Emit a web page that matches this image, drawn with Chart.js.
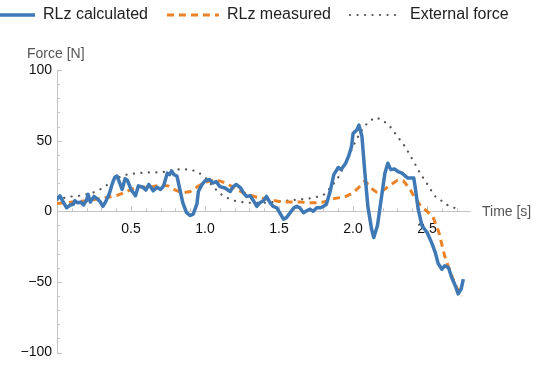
<!DOCTYPE html>
<html>
<head>
<meta charset="utf-8">
<script src="https://cdn.jsdelivr.net/npm/chart.js@4/dist/chart.umd.min.js"></script>
<style>
  html, body { margin: 0; padding: 0; background: #fff; }
  #wrap { width: 550px; height: 366px; }
</style>
</head>
<body>
<div id="wrap"><canvas id="chart" width="550" height="366"></canvas></div>
<script>
/* RLz force vs time */

// RLz calculated (blue, noisy)
const calcTime = [0, 0.02, 0.04, 0.065, 0.09, 0.11, 0.12, 0.14, 0.16, 0.18, 0.2, 0.21, 0.225, 0.25, 0.27, 0.29, 0.31, 0.33,
  0.355, 0.375, 0.39, 0.405, 0.42, 0.44, 0.46, 0.475, 0.5, 0.53, 0.55, 0.58, 0.6, 0.62, 0.65, 0.675, 0.7, 0.72, 0.745,
  0.76, 0.775, 0.79, 0.81, 0.83, 0.85, 0.875, 0.9, 0.92, 0.945, 0.955, 0.98, 1.0, 1.03, 1.055, 1.075, 1.1, 1.135, 1.17,
  1.19, 1.21, 1.24, 1.26, 1.28, 1.305, 1.33, 1.35, 1.37, 1.395, 1.415, 1.44, 1.46, 1.485, 1.51, 1.53, 1.55, 1.575, 1.6,
  1.62, 1.64, 1.665, 1.69, 1.71, 1.73, 1.755, 1.78, 1.8, 1.82, 1.845, 1.87, 1.9, 1.92, 1.95, 1.97, 1.99, 2.0, 2.025,
  2.04, 2.06, 2.08, 2.1, 2.125, 2.14, 2.165, 2.19, 2.215, 2.235, 2.255, 2.28, 2.305, 2.33, 2.37, 2.41, 2.42, 2.44,
  2.465, 2.5, 2.53, 2.555, 2.575, 2.6, 2.62, 2.645, 2.665, 2.69, 2.71, 2.73, 2.745];
const calcForce = [8.5, 11, 7, 2.5, 4.5, 5, 7.5, 6, 6.5, 4.5, 8, 12, 6.5, 10.5, 9, 7, 3.5, 7,
  13, 20, 24, 25, 21, 15.5, 23, 22, 15.5, 11, 18, 17, 15, 19, 14.5, 17, 15.5, 18, 27,
  26, 28.5, 26, 25, 15.5, 6, -1, -3, -2, 5, 14, 19, 21.5, 22.5, 20, 21, 17.5, 16.5, 14,
  17.5, 19, 16.5, 13, 10.5, 11, 7, 3.5, 6, 7.5, 10.5, 6, 3.5, 2.5, -2, -5.5, -4.5, -1, 2.5,
  3.5, 2.5, -1, 0.5, 1.5, 0, 2.5, 2.5, 3.5, 5, 14, 26, 31, 29.5, 34, 39, 46, 55, 57.5,
  61, 53, 27, 3.5, -12.5, -18.5, -10, 8.5, 27, 34, 29.5, 30, 28, 27, 23.5, 23.5, 17, 1.5,
  -10, -15, -22, -29, -37, -41, -38.5, -40, -46.5, -52.5, -58.5, -55, -48];

// RLz measured (orange, dashed)
const measTime = [0, 0.1, 0.2, 0.3, 0.4, 0.45, 0.5, 0.55, 0.6, 0.65, 0.7, 0.75, 0.8, 0.85, 0.9, 0.95, 1.0, 1.05,
  1.1, 1.15, 1.2, 1.25, 1.3, 1.35, 1.4, 1.45, 1.5, 1.55, 1.6, 1.65, 1.7, 1.75, 1.8, 1.85, 1.9, 1.95, 2.0, 2.04,
  2.08, 2.12, 2.16, 2.2, 2.25, 2.3, 2.34, 2.38, 2.42, 2.46, 2.5, 2.54, 2.58, 2.62, 2.66, 2.7, 2.735];
const measForce = [5.5, 6.5, 7.5, 9, 11, 13, 15.5, 17.5, 17, 17.5, 18.5, 18, 15, 13, 14, 17.5, 20.5, 22,
  21.5, 19.5, 16.5, 13.5, 11.5, 10, 9, 8, 7, 6.5, 6.5, 6.5, 6, 6, 6.5, 8.5, 9.5, 10.5, 13, 17,
  21.5, 16.5, 13.5, 14.5, 18.5, 22, 21.5, 16.5, 9, 3.5, 0, -4, -15, -32, -44, -54, -60];

// External force (gray, dotted)
const extTime = [0, 0.05, 0.1, 0.15, 0.2, 0.25, 0.3, 0.35, 0.4, 0.45, 0.5, 0.55, 0.6, 0.65, 0.7, 0.75, 0.8, 0.85,
  0.9, 0.95, 1.0, 1.05, 1.1, 1.15, 1.2, 1.25, 1.3, 1.35, 1.4, 1.45, 1.5, 1.55, 1.6, 1.65, 1.7, 1.75, 1.8, 1.85,
  1.9, 1.95, 2.0, 2.05, 2.1, 2.15, 2.2, 2.25, 2.3, 2.35, 2.4, 2.45, 2.5, 2.55, 2.6, 2.65, 2.7, 2.72];
const extForce = [8, 9.5, 10.5, 11, 12, 13.5, 16, 19.5, 23, 25.5, 26.5, 27, 27.5, 27.5, 27.5, 28.5, 29.5, 29.8,
  29.5, 28, 24, 18, 12.5, 9.5, 7.5, 6.5, 6, 6, 6, 6.5, 7, 7.5, 8, 8.5, 9, 10, 11.5, 17,
  24, 34, 46, 56, 63, 66.5, 64.5, 60, 53, 46, 37, 27.5, 19.5, 11, 7.3, 3.5, 2, 2];

const timeTicks = [0.5, 1.0, 1.5, 2.0, 2.5];
const forceTicks = [-100, -50, 0, 50, 100];
const timeMax = 2.79;

const FONT = '"Liberation Sans", Arial, sans-serif';
Chart.defaults.font.family = FONT;

const toPoints = (xs, ys) => xs.map((t, i) => ({ x: t, y: ys[i] }));
const fmtForce = (v) => (v < 0 ? '\u2212' + Math.abs(v) : String(v));

// extra space above the plot for the "Force [N]" label
const legendGap = {
  id: 'legendGap',
  beforeInit(chart) {
    const legend = chart.legend;
    const fit = legend.fit;
    legend.fit = function () {
      fit.call(this);
      this.height = 82;
    };
  },
};

// Mathematica-like inward ticks plus axis names
const axisDecor = {
  id: 'axisDecor',
  beforeDatasetsDraw(chart) {
    const { ctx, chartArea, scales: { x, y } } = chart;
    const y0 = y.getPixelForValue(0);
    ctx.save();
    ctx.strokeStyle = '#c4c4c4';
    ctx.lineWidth = 1;
    ctx.beginPath();
    for (let v = -100; v <= 100; v += 10) {
      const py = Math.round(y.getPixelForValue(v)) + 0.5;
      ctx.moveTo(chartArea.left, py);
      ctx.lineTo(chartArea.left + (v % 50 === 0 ? 5 : 3), py);
    }
    for (let i = 1; i * 0.1 < timeMax; i++) {
      const px = Math.round(x.getPixelForValue(i * 0.1)) + 0.5;
      ctx.moveTo(px, y0);
      ctx.lineTo(px, y0 - (i % 5 === 0 ? 5 : 3));
    }
    ctx.stroke();
    ctx.font = '14px ' + FONT;
    ctx.fillStyle = '#555';
    ctx.textBaseline = 'middle';
    ctx.textAlign = 'left';
    ctx.fillText('Force [N]', chartArea.left - 30, chartArea.top - 16);
    ctx.fillText('Time [s]', chartArea.right + 12, y0 + 1);
    ctx.restore();
  },
};

new Chart(document.getElementById('chart'), {
  type: 'line',
  data: {
    datasets: [
      {
        label: 'RLz calculated', data: toPoints(calcTime, calcForce), yAxisID: 'y',
        borderColor: '#3e79b5', borderWidth: 3.5, borderJoinStyle: 'round', pointRadius: 0, order: 1,
      },
      {
        label: 'RLz measured', data: toPoints(measTime, measForce), yAxisID: 'y',
        borderColor: '#eb8228', borderWidth: 3, borderDash: [7, 5], pointRadius: 0, order: 2,
      },
      {
        label: 'External force', data: toPoints(extTime, extForce), yAxisID: 'y',
        borderColor: '#555', borderWidth: 2.2, borderDash: [0.1, 7.4], borderCapStyle: 'round',
        pointRadius: 0, order: 3,
      },
    ],
  },
  options: {
    responsive: false,
    animation: false,
    events: [],
    layout: { padding: { top: -12, left: -36, right: 0, bottom: 11 } },
    plugins: {
      tooltip: { enabled: false },
      legend: {
        position: 'top',
        align: 'start',
        labels: {
          usePointStyle: true,
          pointStyleWidth: 52,
          padding: 19,
          color: '#222',
          font: { size: 16 },
          generateLabels(chart) {
            const items = Chart.defaults.plugins.legend.labels.generateLabels(chart);
            items.forEach((it) => {
              const ds = chart.data.datasets[it.datasetIndex];
              it.pointStyle = 'line';
              it.lineDash = ds.borderDash || [];
              it.lineCap = ds.borderCapStyle || 'butt';
              it.lineWidth = ds.borderWidth;
              it.strokeStyle = ds.borderColor;
            });
            return items;
          },
        },
      },
    },
    scales: {
      x: {
        type: 'linear',
        position: { y: 0 },
        min: 0,
        max: timeMax,
        afterBuildTicks: (s) => { s.ticks = timeTicks.map((v) => ({ value: v })); },
        ticks: { color: '#111', padding: 9, font: { size: 14 }, maxRotation: 0, callback: (v) => v.toFixed(1) },
        grid: { display: false, drawTicks: false },
        border: { color: '#c4c4c4' },
      },
      y: {
        type: 'linear',
        position: 'left',
        min: -100,
        max: 100,
        afterBuildTicks: (s) => { s.ticks = forceTicks.map((v) => ({ value: v })); },
        afterFit: (s) => { s.width = 93; },
        ticks: { color: '#111', padding: 5, font: { size: 14 }, callback: fmtForce },
        grid: { display: false, drawTicks: false },
        border: { color: '#c4c4c4' },
      },
      pad: {
        axis: 'y',
        type: 'linear',
        position: 'right',
        afterFit: (s) => { s.width = 80; },
        ticks: { display: false },
        grid: { display: false, drawTicks: false },
        border: { display: false },
      },
    },
  },
  plugins: [legendGap, axisDecor],
});
</script>
</body>
</html>
